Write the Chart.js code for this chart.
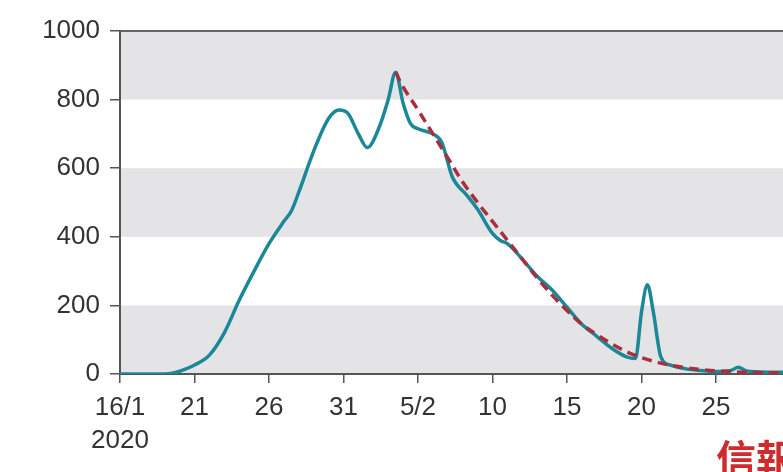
<!DOCTYPE html>
<html>
<head>
<meta charset="utf-8">
<script src="https://cdn.jsdelivr.net/npm/chart.js@4"></script>
<style>
  html, body { margin: 0; padding: 0; background: #fff; }
  #wrap { width: 783px; height: 472px; }
</style>
</head>
<body>
<div id="wrap"><canvas id="chart" width="783" height="472"></canvas></div>
<script>
// days counted from 16/1/2020
const casesDays = [0, 1, 2, 3, 3.5, 4, 5, 6, 7, 8, 9, 10, 11, 11.5, 12, 13, 14, 14.7, 15.3, 16, 16.6, 17.4, 18, 18.5,
    19, 19.5, 20, 21, 21.6, 22.3, 23.3, 24, 25, 25.5, 26, 27, 28, 29, 30, 31, 32, 33, 34, 34.6, 35, 35.4, 35.8, 36.3,
    37, 38, 39, 40, 41, 41.5, 42, 43, 44, 44.5];
const casesValues = [0, 0, 0, 0, 2, 8, 26, 55, 120, 215, 300, 380, 445, 475, 530, 650, 745, 770, 760, 700, 660, 720, 800, 880,
    790, 730, 715, 700, 675, 575, 520, 480, 410, 390, 380, 335, 285, 245, 195, 145, 110, 75, 50, 45, 180, 260, 180, 50,
    25, 15, 10, 7, 10, 20, 10, 6, 5, 5];
const fitDays = [18.5, 19, 20, 21, 22, 23, 24, 25, 26, 27, 28, 29, 30, 31, 32, 33, 34, 35, 36, 37, 38, 39, 40, 41, 42, 43, 44, 44.5];
const fitValues = [880, 837, 770, 700, 630, 560, 500, 445, 390, 335, 280, 230, 185, 145, 115, 88, 65, 48, 35, 25, 18, 13, 9, 7, 5, 4, 3, 3];
const xTickDays = [0, 5, 10, 15, 20, 25, 30, 35, 40];
const xTickLabels = [['16/1', '2020'], '21', '26', '31', '5/2', '10', '15', '20', '25'];
const yTicks = [0, 200, 400, 600, 800, 1000];

const bands = {
    id: 'bands',
    beforeDraw(chart) {
        const {ctx, chartArea, scales} = chart;
        ctx.save();
        ctx.fillStyle = '#fff';
        ctx.fillRect(0, 0, chart.width, chart.height);
        ctx.fillStyle = '#e4e4e7';
        for (let v = 0; v <= 800; v += 400) {
            const y1 = scales.y.getPixelForValue(v + 200);
            const y0 = scales.y.getPixelForValue(v);
            ctx.fillRect(chartArea.left, y1, chartArea.right - chartArea.left, y0 - y1);
        }
        ctx.strokeStyle = '#666';
        ctx.lineWidth = 2;
        ctx.beginPath();
        ctx.moveTo(chartArea.left, chartArea.top);
        ctx.lineTo(chartArea.right, chartArea.top);
        ctx.stroke();
        ctx.restore();
    },
    afterDraw(chart) {
        const ctx = chart.ctx;
        ctx.save();
        ctx.fillStyle = '#cf2a2c';
        ctx.font = 'bold 40px "Noto Sans CJK TC"';
        ctx.textBaseline = 'alphabetic';
        ctx.fillText('信報', 716, 474);
        ctx.restore();
    }
};

const ctx = document.getElementById('chart').getContext('2d');
const chart = new Chart(ctx, {
    type: 'line',
    data: {
        datasets: [
            {
                label: 'fit',
                data: fitDays.map((d, i) => ({x: d, y: fitValues[i]})),
                borderColor: '#a92f3c',
                borderWidth: 3.5,
                borderDash: [10, 6],
                pointRadius: 0,
                tension: 0.4,
                fill: false
            },
            {
                label: 'cases',
                data: casesDays.map((d, i) => ({x: d, y: casesValues[i]})),
                borderColor: '#1b8898',
                borderWidth: 3.5,
                pointRadius: 0,
                cubicInterpolationMode: 'monotone',
                fill: false
            }
        ]
    },
    options: {
        responsive: false,
        animation: false,
        layout: {padding: {top: 31, right: 0, left: 0, bottom: 0}},
        plugins: {
            legend: {display: false},
            tooltip: {enabled: false}
        },
        scales: {
            x: {
                type: 'linear',
                min: 0,
                max: 44.5,
                afterFit: s => { s.height = 98; },
                afterBuildTicks: s => { s.ticks = xTickDays.map(v => ({value: v})); },
                border: {display: true, color: '#555', width: 2},
                grid: {drawOnChartArea: false, tickLength: 9, color: '#555', lineWidth: 1.5},
                ticks: {
                    color: '#333',
                    padding: 9,
                    maxRotation: 0,
                    autoSkip: false,
                    font: {family: '"Liberation Sans", Arial', size: 26, lineHeight: 1.25},
                    callback: v => xTickLabels[xTickDays.indexOf(v)]
                }
            },
            y: {
                min: 0,
                max: 1000,
                afterFit: s => { s.width = 120; },
                afterBuildTicks: s => { s.ticks = yTicks.map(v => ({value: v})); },
                border: {display: true, color: '#555', width: 2},
                grid: {drawOnChartArea: false, tickLength: 10, color: '#555', lineWidth: 1.5},
                ticks: {
                    color: '#333',
                    padding: 10,
                    font: {family: '"Liberation Sans", Arial', size: 26},
                    callback: v => String(v)
                }
            }
        }
    },
    plugins: [bands]
});
</script>
</body>
</html>
